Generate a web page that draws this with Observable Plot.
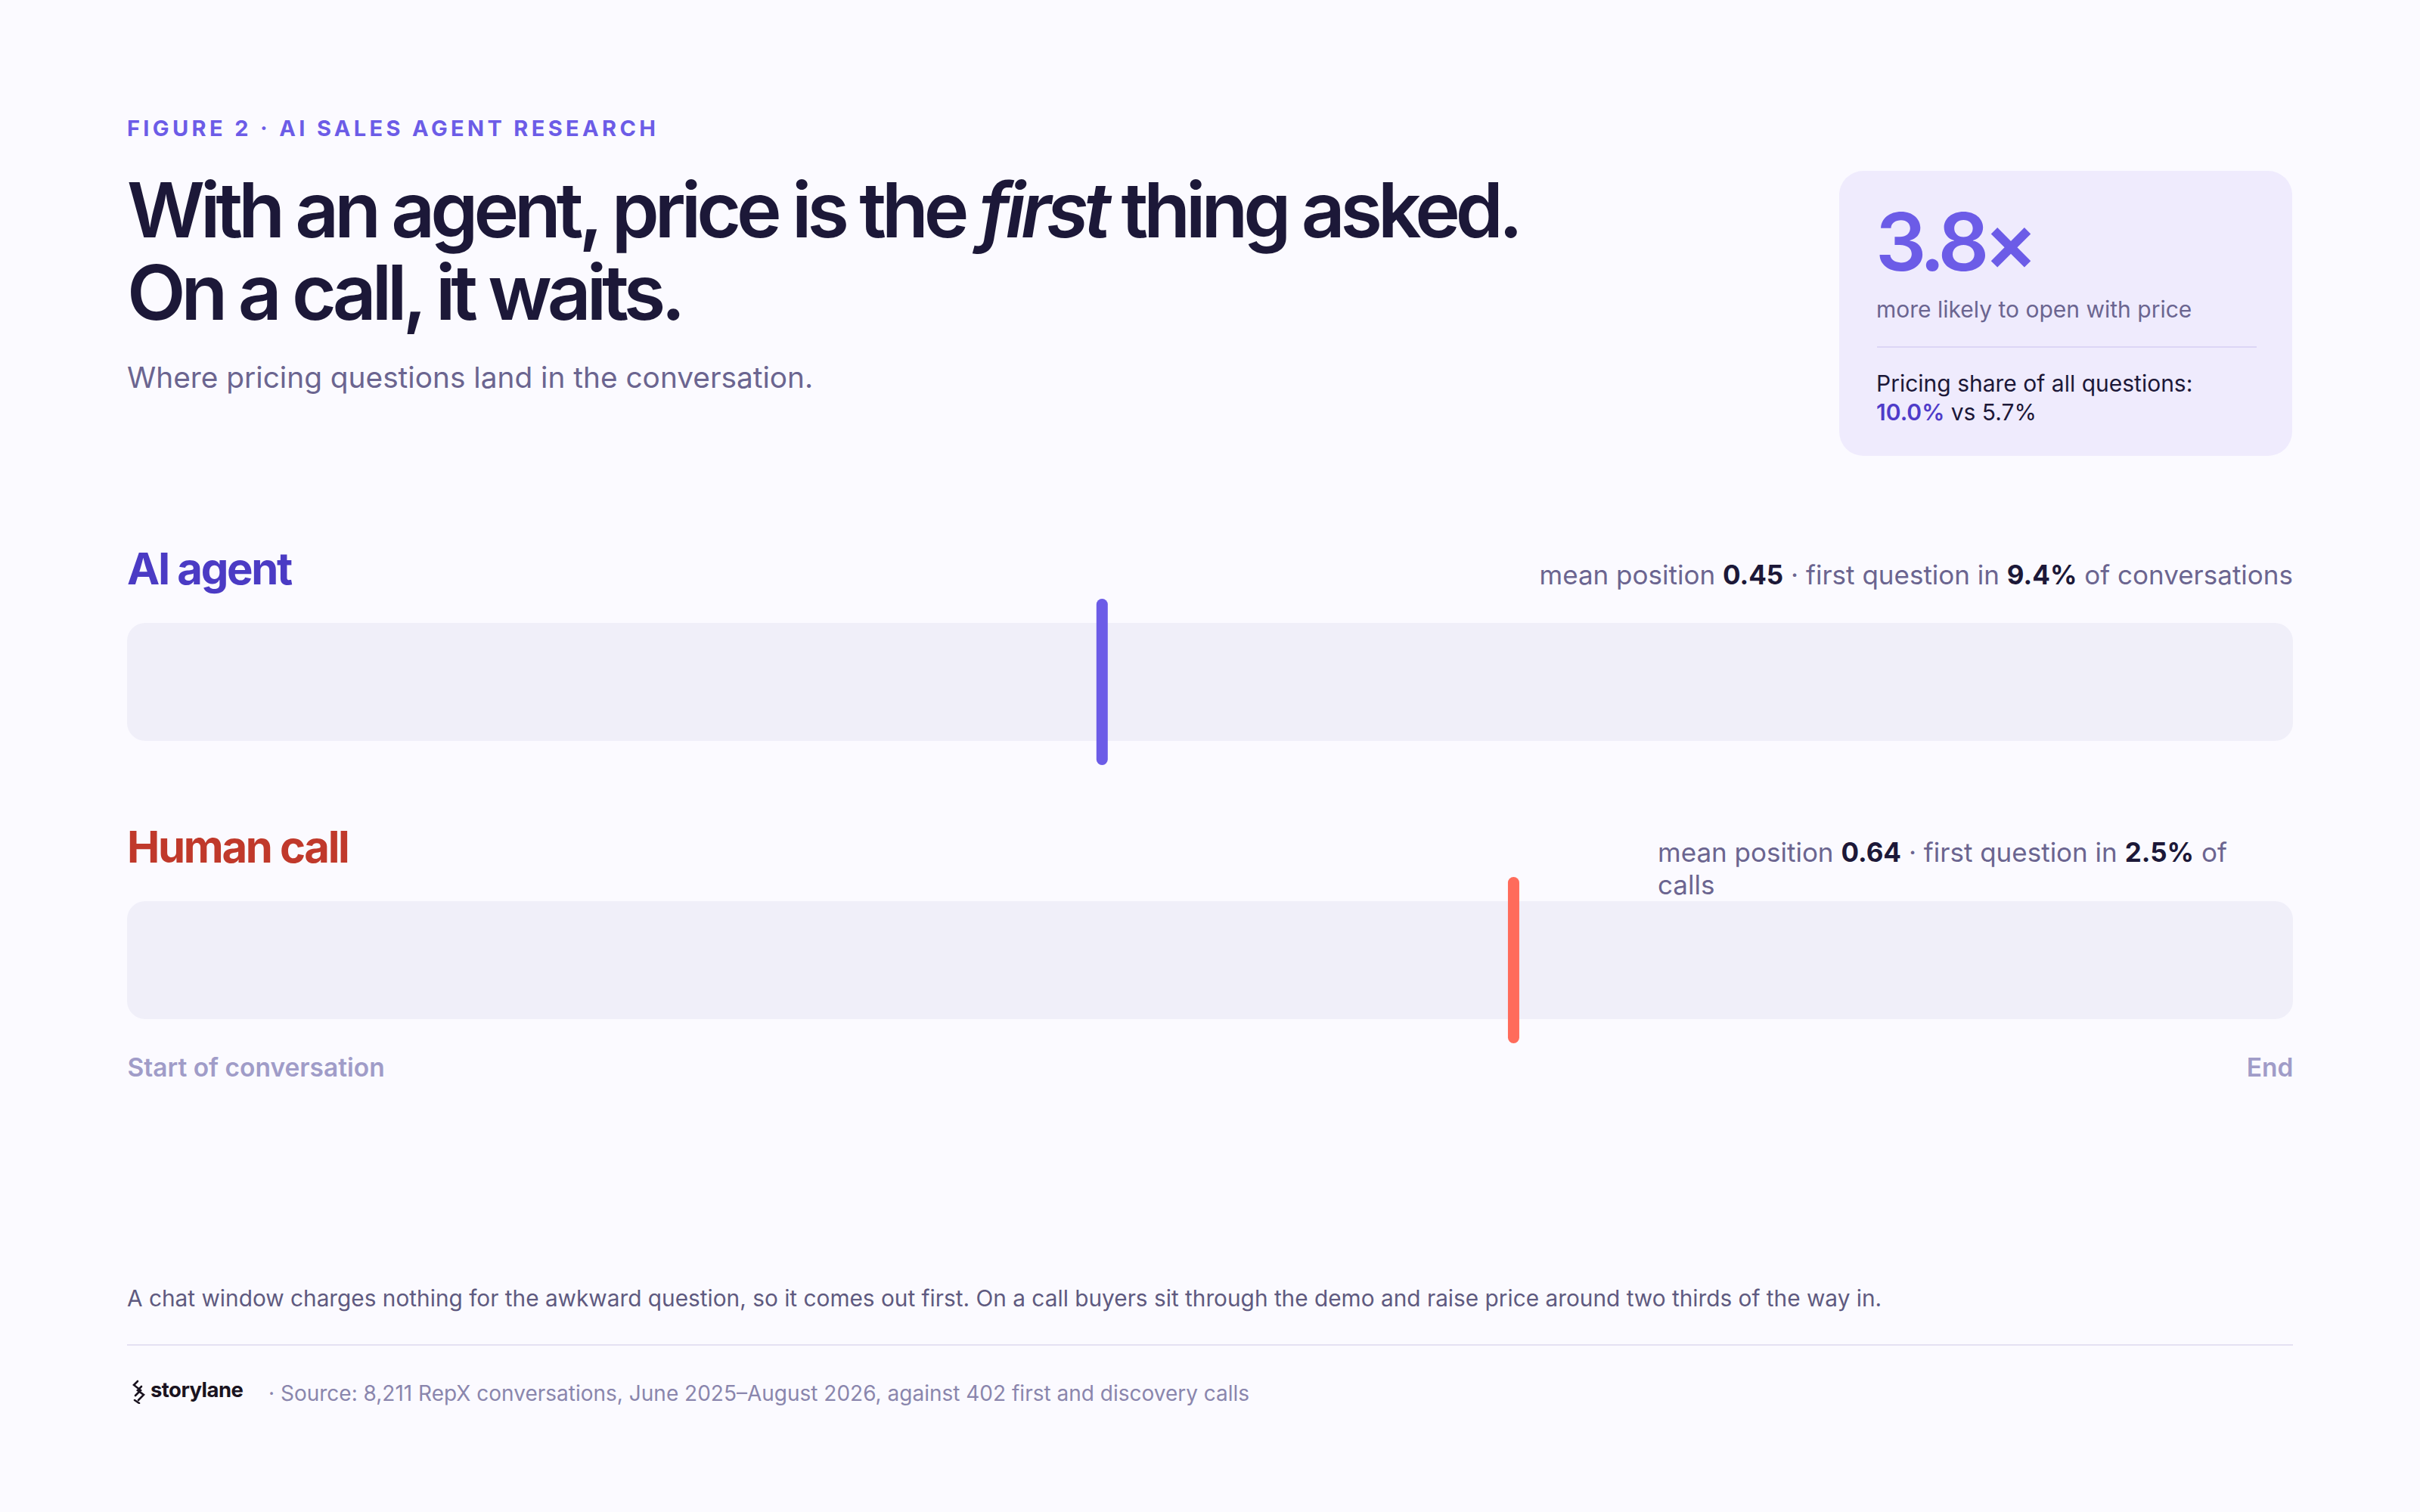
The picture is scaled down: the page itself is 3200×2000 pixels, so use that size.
<!DOCTYPE html>
<html><head><meta charset="utf-8">
<script src="https://cdn.jsdelivr.net/npm/d3@7"></script>
<script src="https://cdn.jsdelivr.net/npm/@observablehq/plot@0.6"></script>
<style>
html,body{margin:0;padding:0;background:#fbfaff;}
body{width:3200px;height:2000px;position:relative;font-family:Inter,"Noto Sans",sans-serif;overflow:hidden;}
.abs{position:absolute;white-space:nowrap;}
b{font-weight:700;color:#1c1838;}
</style></head><body>
<script>
// ---- data ----
const series = ["AI agent", "Human call"];
const meanPosition = [0.45, 0.64];
const firstQuestionShare = [9.4, 2.5];
const unitLabels = ["conversations", "calls"];
const endLabels = ["Start of conversation", "End"];
const endPositions = [0, 1];
const multiplier = 3.8;
const pricingShare = [10.0, 5.7];

// ---- styles ----
const markerColors = ["#6c5ce7", "#ff6b5b"];
const labelColors = ["#4b3bc4", "#c0392b"];
const trackFill = "#f0eff9";

function txt(html, o) {
  const d = document.createElement("div");
  d.className = "abs";
  d.innerHTML = html;
  const lh = o.lh || Math.round(o.size * 1.2);
  d.style.fontSize = o.size + "px";
  d.style.lineHeight = lh + "px";
  d.style.top = (o.baseline - lh / 2 - 0.3633 * o.size) + "px";
  if (o.left != null) d.style.left = o.left + "px";
  if (o.right != null) { d.style.right = o.right + "px"; d.style.textAlign = "right"; }
  if (o.width) { d.style.width = o.width + "px"; }
  d.style.fontWeight = o.weight || 400;
  d.style.color = o.color || "#1c1838";
  if (o.ls) d.style.letterSpacing = o.ls;
  document.body.appendChild(d);
  return d;
}
function box(o) {
  const d = document.createElement("div");
  d.className = "abs";
  Object.assign(d.style, o);
  document.body.appendChild(d);
  return d;
}

// header
txt("FIGURE 2 · AI SALES AGENT RESEARCH", {left: 168, baseline: 180, size: 29, weight: 700, color: "#6c5ce7", ls: "0.15em"});
txt("With an agent, price is the <em style='font-style:italic;display:inline-block;line-height:100px'>first</em> thing asked.",
  {left: 168, baseline: 314, size: 101, lh: 100, weight: 600, color: "#1c1838", ls: "-0.06em"});
txt("On a call, it waits.",
  {left: 168, baseline: 423, size: 101, lh: 100, weight: 600, color: "#1c1838", ls: "-0.06em"});
txt("Where pricing questions land in the conversation.", {left: 168, baseline: 513, size: 38.8, lh: 46, color: "#6b6590"});

// stat card
box({left: "2432px", top: "226px", width: "599px", height: "377px", background: "#efebfd", borderRadius: "32px"});
txt(multiplier.toFixed(1) + "×", {left: 2480, baseline: 358, size: 106, weight: 600, color: "#6c5ce7", ls: "-0.065em"});
txt("more likely to open with price", {left: 2481, baseline: 420, size: 30, color: "#6b6590"});
box({left: "2482px", top: "458px", width: "502px", height: "2px", background: "#dcd6f5"});
txt("Pricing share of all questions:", {left: 2481, baseline: 518, size: 30, lh: 37, color: "#1c1838"});
txt("<span style='color:#4f3cc9;font-weight:600'>" + pricingShare[0].toFixed(1) + "%</span> vs " + pricingShare[1].toFixed(1) + "%",
  {left: 2481, baseline: 556, size: 30, lh: 37, color: "#1c1838"});

// series rows
const labelBaselines = [773, 1141];
const svgTops = [784, 1152];
const annotLine1 = (i) => "mean position <b>" + meanPosition[i].toFixed(2) + "</b> · first question in <b>" + firstQuestionShare[i].toFixed(1) + "%</b> of";

series.forEach((s, i) => {
  txt(s, {left: 168, baseline: labelBaselines[i], size: 58, weight: 700, color: labelColors[i], ls: "-0.04em"});
  if (i === 0) {
    txt(annotLine1(i) + " " + unitLabels[i], {right: 168, baseline: labelBaselines[i], size: 35, color: "#6b6590"});
  } else {
    // narrower block: the last word wraps onto a second line, as in the reference
    txt(annotLine1(i), {left: 2192, baseline: labelBaselines[i] - 1, size: 35, color: "#6b6590"});
    txt(unitLabels[i], {left: 2192, baseline: labelBaselines[i] + 42, size: 35, color: "#6b6590"});
  }

  const k = 24.5 / 156;
  const last = i === series.length - 1;
  const marks = [
    Plot.rect([s], {x1: 0, x2: 1, y1: 0, y2: 1, fill: trackFill, rx: 24}),
    Plot.ruleX([{x: meanPosition[i]}], {x: "x", y1: -k, y2: 1 + k, stroke: markerColors[i], strokeWidth: 15, strokeLinecap: "round"})
  ];
  if (last) {
    marks.push(Plot.text([endLabels[0]], {x: endPositions[0], y: 0, text: d => d, textAnchor: "start", lineAnchor: "bottom", dy: 75, fill: "#a09cc8", fontSize: 33.5, fontWeight: 600}));
    marks.push(Plot.text([endLabels[1]], {x: endPositions[1], y: 0, text: d => d, textAnchor: "end", lineAnchor: "bottom", dy: 75, fill: "#a09cc8", fontSize: 33.5, fontWeight: 600}));
  }
  const chart = Plot.plot({
    width: 2864,
    height: 156 + 40 + (last ? 100 : 40),
    marginLeft: 0, marginRight: 0, marginTop: 40, marginBottom: last ? 100 : 40,
    x: {domain: [0, 1], axis: null},
    y: {domain: [0, 1], axis: null},
    style: {background: "transparent", overflow: "visible", fontFamily: "Inter, sans-serif"},
    marks
  });
  const wrap = box({left: "168px", top: svgTops[i] + "px"});
  wrap.appendChild(chart);
});

// caption + footer
txt("A chat window charges nothing for the awkward question, so it comes out first. On a call buyers sit through the demo and raise price around two thirds of the way in.",
  {left: 168, baseline: 1728, size: 29.8, color: "#5f5a80"});
box({left: "168px", top: "1778px", width: "2864px", height: "2px", background: "#e4e1f3"});

const logo = box({left: "174px", top: "1825px", width: "20px", height: "32px"});
logo.innerHTML = "<svg width='20' height='32' viewBox='0 0 20 32'><g fill='none' stroke='#1a1320' stroke-width='2.6' stroke-linecap='round'><path d='M8 2 L3 7 L12 14 L5 21'/><path d='M13 9 L8 14 L16 20 L9 27'/><path d='M4 27 L10 31'/></g></svg>";
txt("storylane", {left: 199, baseline: 1848, size: 27.5, weight: 700, color: "#1a1320", ls: "-0.02em"});
txt("· Source: 8,211 RepX conversations, June 2025–August 2026, against 402 first and discovery calls",
  {left: 355, baseline: 1853, size: 28, color: "#8a86ad"});
</script>
</body></html>
